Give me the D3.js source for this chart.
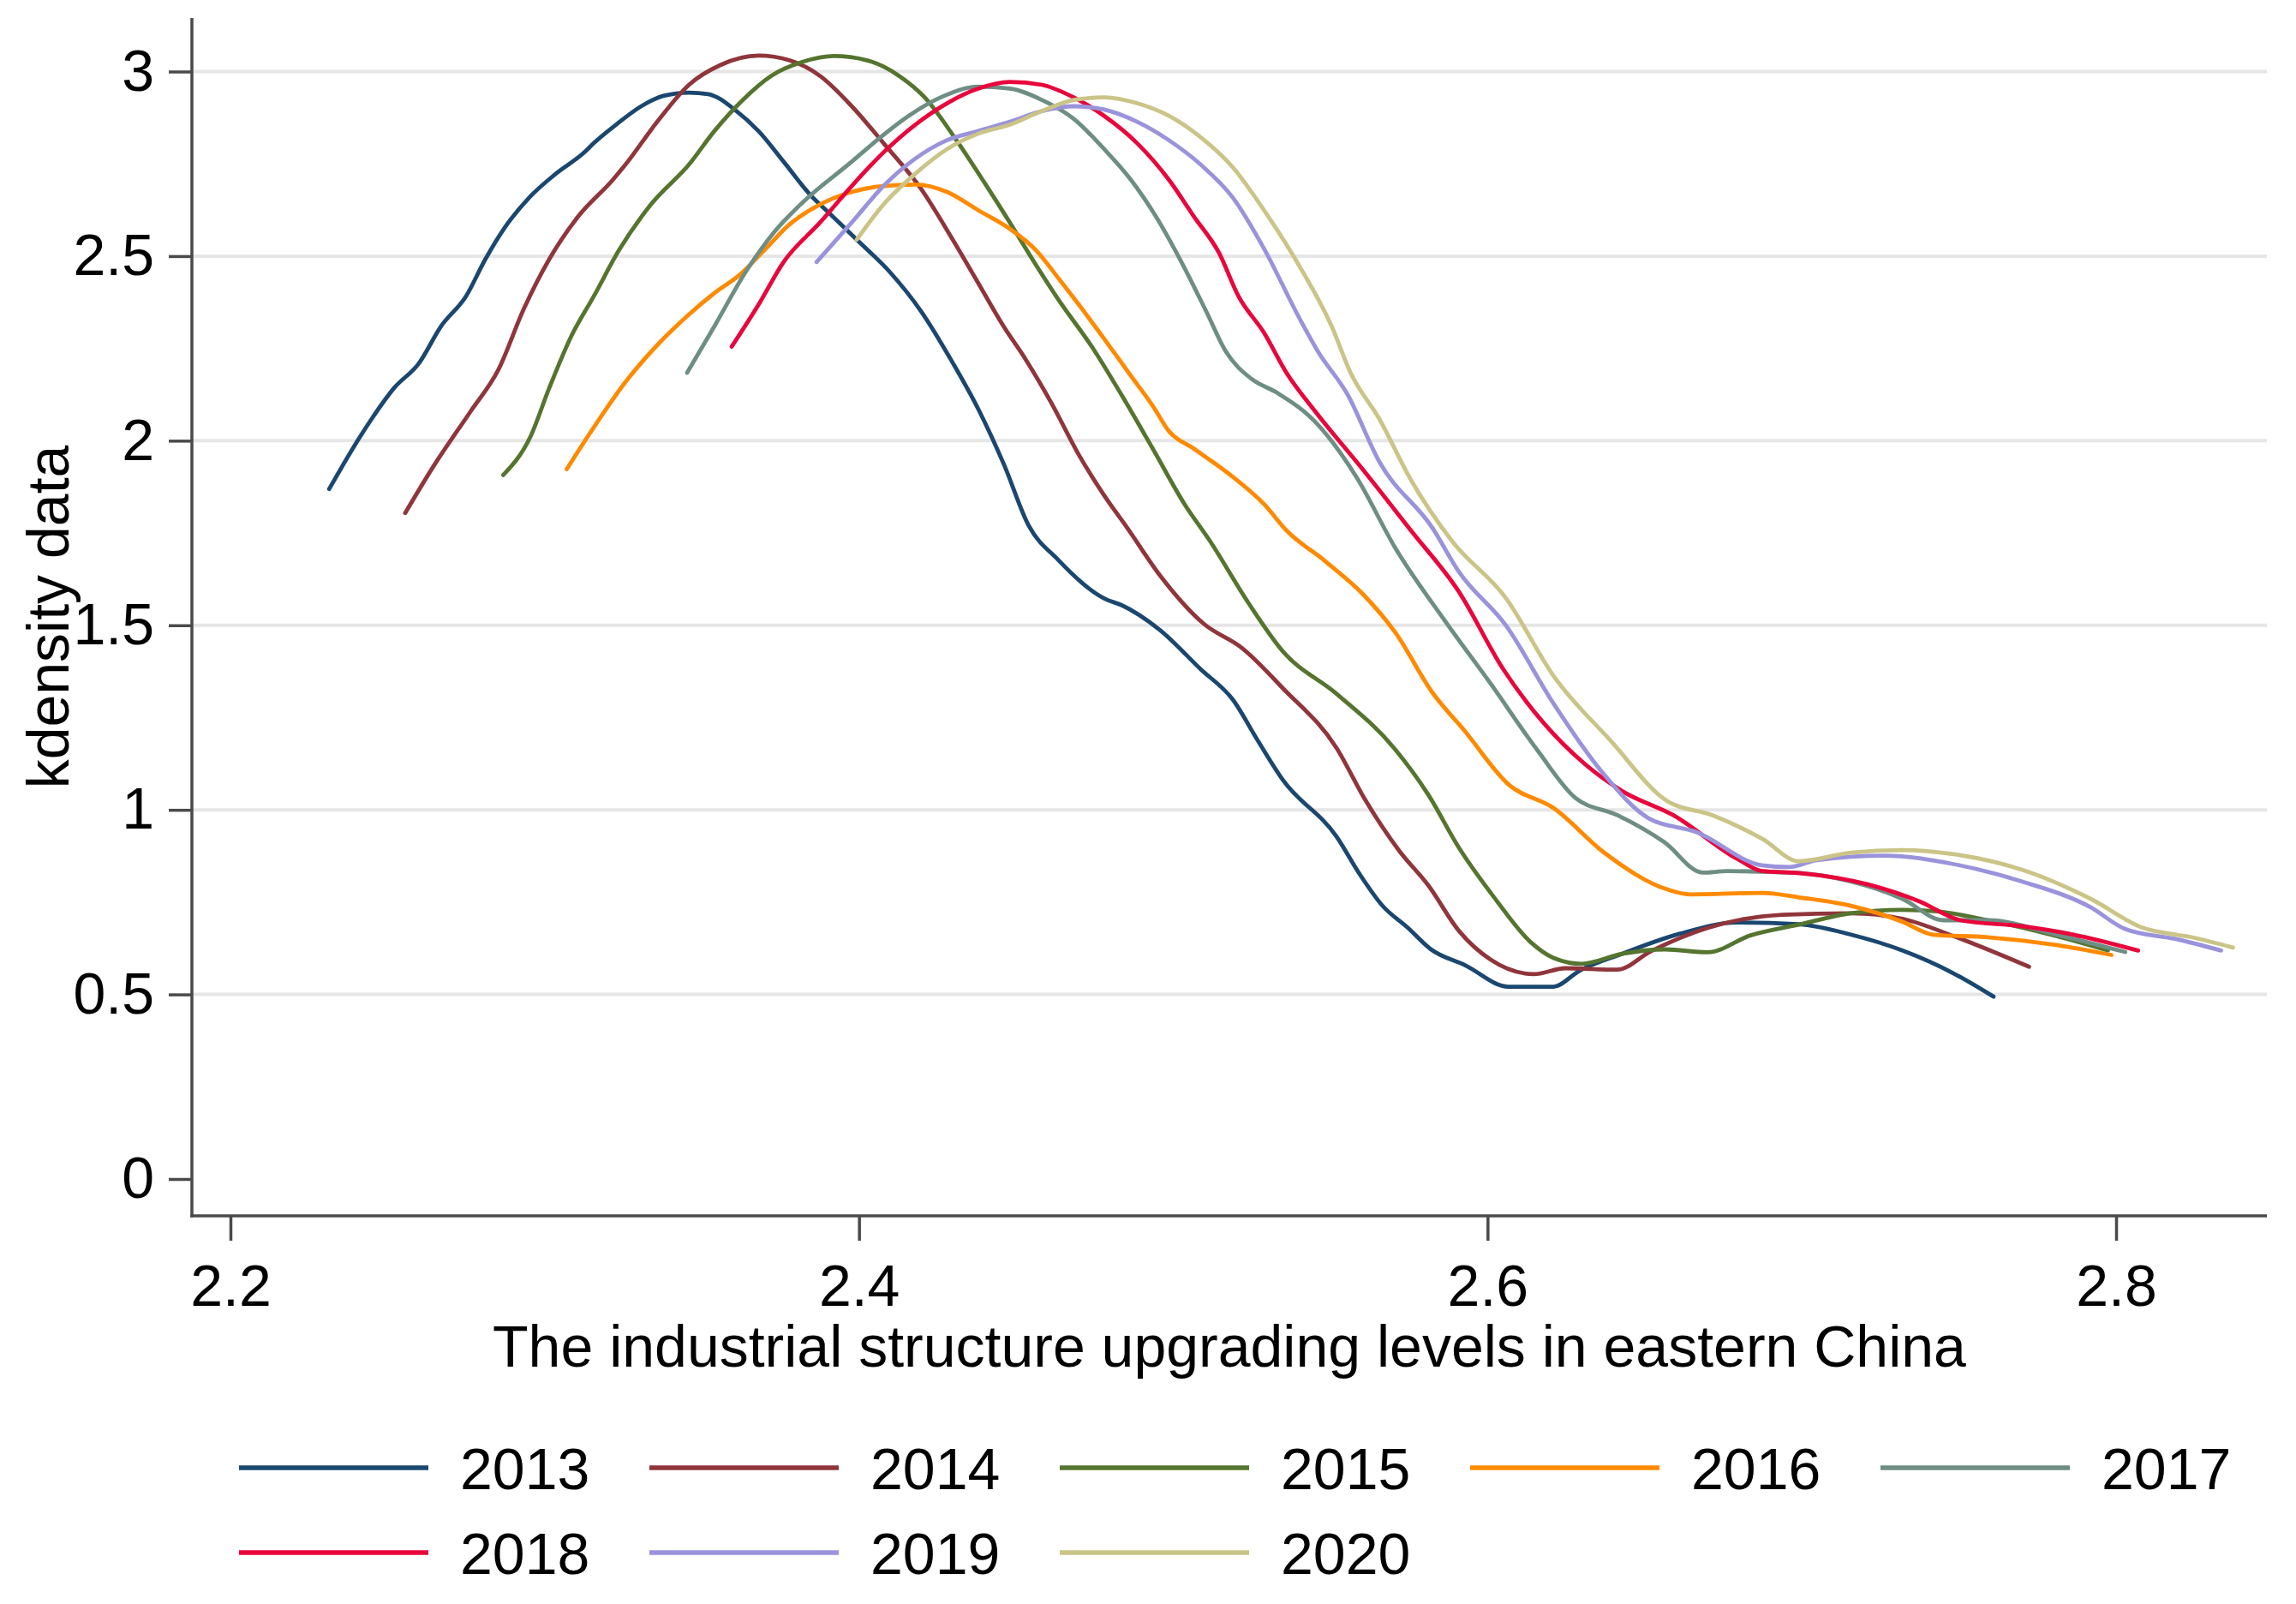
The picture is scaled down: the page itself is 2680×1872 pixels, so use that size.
<!DOCTYPE html>
<html>
<head>
<meta charset="utf-8">
<script src="https://cdn.jsdelivr.net/npm/d3@7"></script>
<style>
  html, body { margin: 0; padding: 0; background: #ffffff; }
  svg { display: block; }
  text { font-family: "Liberation Sans", Arial, sans-serif; fill: #000; }
</style>
</head>
<body>
<script>
// ---------------- DATA ----------------
const years = ["2013", "2014", "2015", "2016", "2017", "2018", "2019", "2020"];
const colors = ["#1a476f", "#90353b", "#55752f", "#ff8a00", "#6e8e84", "#e8063c", "#9a93dc", "#cbc487"];
const xTicks = [2.2, 2.4, 2.6, 2.8];
const yTicks = [0, 0.5, 1, 1.5, 2, 2.5, 3];
const yGrid = [0.5, 1, 1.5, 2, 2.5, 3];
const xTitle = "The industrial structure upgrading levels in eastern China";
const yTitle = "kdensity data";

const d2013 = [[2.2314,1.869],[2.240,1.994],[2.245,2.060],[2.252,2.142],[2.260,2.210],[2.267,2.310],[2.275,2.392],[2.281,2.490],[2.287,2.574],[2.295,2.658],[2.3035,2.723],[2.3126,2.781],[2.3156,2.806],[2.3227,2.856],[2.3307,2.906],[2.3377,2.934],[2.3459,2.943],[2.352,2.939],[2.361,2.893],[2.368,2.839],[2.376,2.756],[2.3846,2.665],[2.3906,2.616],[2.3996,2.542],[2.4097,2.458],[2.4198,2.350],[2.4299,2.210],[2.438,2.085],[2.4461,1.936],[2.454,1.770],[2.4633,1.678],[2.4784,1.571],[2.4834,1.555],[2.4956,1.488],[2.5087,1.381],[2.519,1.298],[2.5268,1.189],[2.5348,1.082],[2.552,0.927],[2.5593,0.826],[2.5665,0.741],[2.5747,0.680],[2.582,0.622],[2.5929,0.579],[2.6066,0.521],[2.621,0.521],[2.6292,0.564],[2.6428,0.610],[2.661,0.664],[2.6793,0.695],[2.699,0.690],[2.7156,0.662],[2.732,0.619],[2.7483,0.557],[2.761,0.494]];
const d2014 = [[2.2556,1.804],[2.265,1.936],[2.2763,2.078],[2.2853,2.193],[2.2934,2.358],[2.3014,2.491],[2.3106,2.607],[2.3217,2.707],[2.3257,2.748],[2.3358,2.864],[2.3459,2.964],[2.356,3.018],[2.368,3.043],[2.378,3.030],[2.3876,2.988],[2.3977,2.906],[2.4078,2.806],[2.4198,2.682],[2.430,2.542],[2.438,2.426],[2.446,2.310],[2.4532,2.218],[2.4613,2.101],[2.470,1.961],[2.478,1.852],[2.4855,1.762],[2.4956,1.637],[2.5097,1.504],[2.5218,1.439],[2.5348,1.330],[2.552,1.167],[2.561,1.028],[2.5719,0.889],[2.5811,0.796],[2.591,0.671],[2.601,0.594],[2.6147,0.555],[2.6248,0.571],[2.6412,0.567],[2.652,0.617],[2.670,0.680],[2.6938,0.716],[2.7156,0.720],[2.732,0.705],[2.7483,0.658],[2.7723,0.575]];
const d2015 = [[2.2868,1.907],[2.2954,2.010],[2.3014,2.142],[2.3085,2.284],[2.3156,2.391],[2.3237,2.517],[2.3338,2.640],[2.3459,2.748],[2.354,2.839],[2.363,2.923],[2.372,2.988],[2.382,3.026],[2.392,3.042],[2.4027,3.030],[2.4128,2.988],[2.4209,2.930],[2.431,2.814],[2.440,2.698],[2.448,2.591],[2.4552,2.491],[2.4633,2.384],[2.4743,2.252],[2.4834,2.126],[2.4935,1.978],[2.5036,1.828],[2.5117,1.728],[2.5238,1.562],[2.5348,1.430],[2.552,1.314],[2.5703,1.167],[2.581,1.043],[2.591,0.896],[2.602,0.764],[2.6138,0.641],[2.621,0.599],[2.630,0.583],[2.6428,0.610],[2.6565,0.622],[2.670,0.614],[2.6837,0.660],[2.699,0.689],[2.7156,0.720],[2.732,0.729],[2.743,0.725],[2.7592,0.701],[2.781,0.658],[2.7974,0.619]];
const d2016 = [[2.307,1.923],[2.3156,2.036],[2.3257,2.159],[2.3358,2.259],[2.3459,2.342],[2.354,2.400],[2.362,2.449],[2.370,2.517],[2.3775,2.583],[2.3876,2.640],[2.3977,2.674],[2.4078,2.690],[2.4179,2.694],[2.428,2.674],[2.438,2.624],[2.448,2.574],[2.4562,2.517],[2.4633,2.442],[2.470,2.368],[2.478,2.276],[2.4865,2.176],[2.4935,2.094],[2.4986,2.026],[2.5066,1.978],[2.5188,1.903],[2.5289,1.828],[2.536,1.757],[2.5483,1.674],[2.5605,1.583],[2.5706,1.481],[2.5826,1.316],[2.5926,1.215],[2.6068,1.068],[2.621,1.005],[2.637,0.885],[2.657,0.785],[2.6643,0.771],[2.6875,0.775],[2.699,0.763],[2.7156,0.740],[2.732,0.697],[2.7418,0.662],[2.7592,0.655],[2.781,0.634],[2.7985,0.607]];
const d2017 = [[2.3453,2.184],[2.354,2.310],[2.364,2.458],[2.3731,2.566],[2.382,2.645],[2.3977,2.756],[2.4057,2.814],[2.4158,2.880],[2.426,2.930],[2.438,2.959],[2.448,2.954],[2.4582,2.923],[2.4683,2.872],[2.478,2.790],[2.4865,2.707],[2.4945,2.607],[2.5026,2.484],[2.5105,2.350],[2.5167,2.242],[2.5248,2.168],[2.5330,2.130],[2.5453,2.050],[2.5584,1.900],[2.5706,1.710],[2.5867,1.509],[2.6008,1.344],[2.6159,1.161],[2.628,1.032],[2.6412,0.986],[2.6563,0.912],[2.6685,0.830],[2.6763,0.834],[2.699,0.829],[2.7156,0.806],[2.732,0.759],[2.745,0.701],[2.7592,0.701],[2.781,0.662],[2.8029,0.615]];
const d2018 = [[2.3595,2.255],[2.368,2.368],[2.376,2.484],[2.3876,2.591],[2.3977,2.690],[2.4078,2.781],[2.4179,2.856],[2.428,2.914],[2.438,2.954],[2.448,2.972],[2.4582,2.964],[2.4683,2.930],[2.478,2.880],[2.4885,2.806],[2.4986,2.707],[2.5066,2.607],[2.5146,2.508],[2.5207,2.392],[2.5289,2.292],[2.536,2.184],[2.5453,2.078],[2.5605,1.920],[2.5756,1.757],[2.5908,1.592],[2.605,1.381],[2.618,1.234],[2.631,1.124],[2.643,1.050],[2.659,0.986],[2.6795,0.867],[2.6875,0.834],[2.699,0.829],[2.721,0.798],[2.7374,0.752],[2.7505,0.701],[2.770,0.685],[2.7865,0.662],[2.807,0.619]];
const d2019 = [[2.3865,2.484],[2.3977,2.591],[2.4078,2.690],[2.4179,2.764],[2.428,2.814],[2.438,2.839],[2.448,2.864],[2.4582,2.893],[2.4683,2.906],[2.478,2.897],[2.4885,2.864],[2.4986,2.814],[2.5087,2.748],[2.519,2.658],[2.5289,2.520],[2.540,2.334],[2.546,2.242],[2.5554,2.126],[2.5655,1.944],[2.5826,1.762],[2.5908,1.646],[2.6059,1.499],[2.621,1.288],[2.6362,1.105],[2.6513,0.977],[2.6664,0.940],[2.6873,0.850],[2.696,0.845],[2.7047,0.864],[2.7265,0.876],[2.7483,0.853],[2.770,0.806],[2.7919,0.736],[2.8029,0.677],[2.819,0.650],[2.8334,0.619]];
const d2020 = [[2.3993,2.545],[2.4078,2.640],[2.4179,2.723],[2.428,2.790],[2.438,2.832],[2.448,2.856],[2.4582,2.893],[2.4683,2.923],[2.478,2.930],[2.4885,2.914],[2.4986,2.880],[2.5087,2.822],[2.519,2.740],[2.5289,2.624],[2.540,2.475],[2.5504,2.310],[2.5564,2.184],[2.5655,2.060],[2.5756,1.894],[2.5887,1.728],[2.6059,1.573],[2.621,1.363],[2.6391,1.188],[2.6573,1.023],[2.6714,0.986],[2.6875,0.921],[2.699,0.861],[2.7156,0.884],[2.732,0.891],[2.7483,0.880],[2.770,0.838],[2.7919,0.759],[2.8083,0.681],[2.8247,0.654],[2.8372,0.627]];
const seriesData = [d2013, d2014, d2015, d2016, d2017, d2018, d2019, d2020];

// ---------------- LAYOUT ----------------
const W = 2680, H = 1872;
const plotLeft = 224, plotRight = 2646, plotTop = 21, plotBottom = 1419;
const FONT = 68;

const svg = d3.select("body").append("svg")
  .attr("width", W).attr("height", H)
  .attr("viewBox", `0 0 ${W} ${H}`);
svg.append("rect").attr("width", W).attr("height", H).attr("fill", "#ffffff");

const x = d3.scaleLinear().domain([2.2, 2.8]).range([269, 2470]);
const y = d3.scaleLinear().domain([0, 3]).range([1376, 83.5]);

// gridlines
svg.append("g").selectAll("line").data(yGrid).join("line")
  .attr("x1", plotLeft).attr("x2", plotRight)
  .attr("y1", d => y(d)).attr("y2", d => y(d))
  .attr("stroke", "#e6e6e6").attr("stroke-width", 4);

// curves
const line = d3.line().x(d => x(d[0])).y(d => y(d[1])).curve(d3.curveMonotoneX);
svg.append("g").selectAll("path").data(seriesData).join("path")
  .attr("d", d => line(d))
  .attr("fill", "none")
  .attr("stroke", (d, i) => colors[i])
  .attr("stroke-width", 4.8)
  .attr("stroke-linejoin", "round")
  .attr("stroke-linecap", "round");

// axes
const axisColor = "#4a4a4a";
const yAxis = svg.append("g").attr("transform", `translate(${plotLeft},0)`)
  .call(d3.axisLeft(y).tickValues(yTicks).tickSize(27).tickPadding(17)
    .tickFormat(d => d3.format("~g")(d)));
yAxis.select(".domain").remove();
yAxis.selectAll(".tick line").attr("stroke", axisColor).attr("stroke-width", 3.5);
yAxis.selectAll(".tick text").attr("font-size", FONT)
  .attr("font-family", '"Liberation Sans", Arial, sans-serif').attr("fill", "#000");

const xAxis = svg.append("g").attr("transform", `translate(0,${plotBottom})`)
  .call(d3.axisBottom(x).tickValues(xTicks).tickSize(29).tickPadding(28)
    .tickFormat(d3.format(".1f")));
xAxis.select(".domain").remove();
xAxis.selectAll(".tick line").attr("stroke", axisColor).attr("stroke-width", 3.5);
xAxis.selectAll(".tick text").attr("font-size", FONT)
  .attr("font-family", '"Liberation Sans", Arial, sans-serif').attr("fill", "#000");

svg.append("line").attr("x1", plotLeft).attr("x2", plotLeft)
  .attr("y1", plotTop).attr("y2", plotBottom + 1.75)
  .attr("stroke", axisColor).attr("stroke-width", 3.5);
svg.append("line").attr("x1", plotLeft - 1.75).attr("x2", plotRight)
  .attr("y1", plotBottom).attr("y2", plotBottom)
  .attr("stroke", axisColor).attr("stroke-width", 3.5);

// titles
svg.append("text").attr("x", (plotLeft + plotRight) / 2).attr("y", 1595)
  .attr("text-anchor", "middle").attr("font-size", FONT).text(xTitle);
svg.append("text")
  .attr("transform", `translate(80,${(plotTop + plotBottom) / 2}) rotate(-90)`)
  .attr("text-anchor", "middle").attr("font-size", FONT).text(yTitle);

// legend
const legCols = 5, colW = 479, lineX0 = 279, lineLen = 221, textGap = 37;
const rowBase = [1738, 1837];
const leg = svg.append("g").selectAll("g").data(years).join("g")
  .attr("transform", (d, i) => `translate(${lineX0 + (i % legCols) * colW},${rowBase[Math.floor(i / legCols)]})`);
leg.append("line").attr("x1", 0).attr("x2", lineLen).attr("y1", -25).attr("y2", -25)
  .attr("stroke", (d, i) => colors[i]).attr("stroke-width", 5.5);
leg.append("text").attr("x", lineLen + textGap).attr("y", 0)
  .attr("font-size", FONT).text(d => d);
</script>
</body>
</html>
